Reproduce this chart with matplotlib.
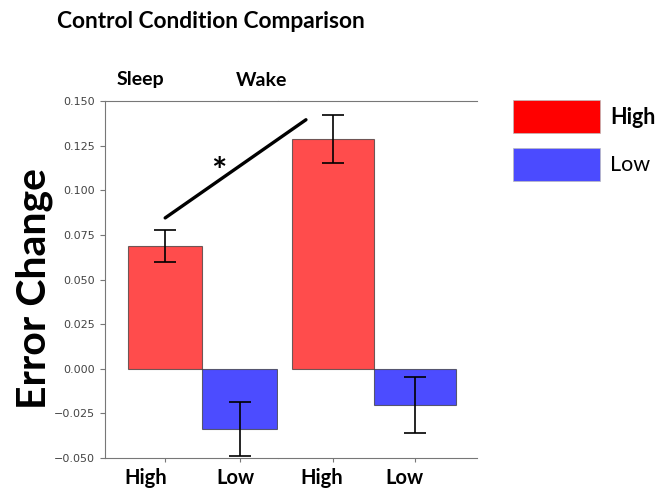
import matplotlib
matplotlib.use('Agg')
import matplotlib.pyplot as plt
from matplotlib.patches import ConnectionPatch, Rectangle

# Data
conditions = ['Sleep', 'Wake']
levels = ['High', 'Low']
sleep_means = [0.0688, -0.0338]
sleep_errs = [0.0091, 0.0150]
wake_means = [0.1287, -0.0203]
wake_errs = [0.0132, 0.0157]
yticks = [-0.050, -0.025, 0.000, 0.025, 0.050, 0.075, 0.100, 0.125, 0.150]

bar_colors = ['red', 'blue']
font = 'Lato'

fig = plt.figure(figsize=(6.61, 4.94), dpi=100)
ax1 = fig.add_axes([105/661, 1 - 458/494, 173/661, 357/494])
ax2 = fig.add_axes([278/661, 1 - 458/494, 199/661, 357/494], sharey=ax1)

for ax, means, errs in [(ax1, sleep_means, sleep_errs), (ax2, wake_means, wake_errs)]:
    ax.bar([0, 1], means, width=1.0, color=bar_colors, alpha=0.7,
           edgecolor='#333333', linewidth=0.8)
    ax.errorbar([0, 1], means, yerr=errs, fmt='none', ecolor='black',
                elinewidth=1.2, capsize=8, capthick=1.2)
    ax.spines['right'].set_visible(False)
    for s in ['top', 'bottom', 'left']:
        ax.spines[s].set_color('#777777')
    ax.set_xticks([0, 1])
    ax.set_xticklabels([])
    ax.tick_params(axis='x', length=3, color='#777777')

ax1.set_xlim(-0.807, 1.513)
ax2.set_xlim(-0.671, 1.756)
ax1.set_ylim(-0.050, 0.150)
ax1.set_yticks(yticks)
ax1.set_yticklabels([f'{t:.3f}'.replace('-', '\u2212') for t in yticks])
ax1.tick_params(axis='y', labelsize=8, labelcolor='#444444', color='#777777', length=3.5)
ax2.spines['left'].set_visible(False)
ax2.tick_params(axis='y', left=False, labelleft=False)

# significance line between Sleep High and Wake High
con = ConnectionPatch(xyA=(0.0, 0.0845), coordsA=ax1.transData,
                      xyB=(-0.33, 0.1395), coordsB=ax2.transData,
                      color='black', linewidth=2.4)
fig.add_artist(con)
fig.text(219/661, 1 - 172/494, '*', fontsize=26, fontweight='bold',
         ha='center', va='center', family=font)

# titles and labels
fig.text(211/661, 1 - 22/494, 'Control Condition Comparison', fontsize=16.4,
         fontweight='bold', ha='center', va='center', family=font)
for x, name in zip([140, 262], conditions):
    fig.text(x/661, 1 - 80/494, name, fontsize=14, fontweight='bold',
             ha='center', va='center', family=font)
for x, name in zip([146, 235, 322, 404], levels * 2):
    fig.text(x/661, 1 - 478/494, name, fontsize=14.5, fontweight='bold',
             ha='center', va='center', family=font)
fig.text(34/661, 1 - 289/494, 'Error Change', fontsize=29.5, fontweight='bold',
         rotation=90, ha='center', va='center', family=font)

# legend drawn as boxes
legend_colors = ['red', '#4B4BFF']
for i, (lab, col) in enumerate(zip(levels, legend_colors)):
    y0 = 1 - (133 + i * 48) / 494
    fig.add_artist(Rectangle((513/661, y0), 87/661, 33/494, transform=fig.transFigure,
                             facecolor=col, edgecolor='#bbbbbb', linewidth=0.5))
    fig.text(610/661, y0 + 16/494, lab, fontsize=15.5,
             fontweight='bold' if i == 0 else 'normal',
             ha='left', va='center', family=font)

fig.savefig('out.png', dpi=100)
